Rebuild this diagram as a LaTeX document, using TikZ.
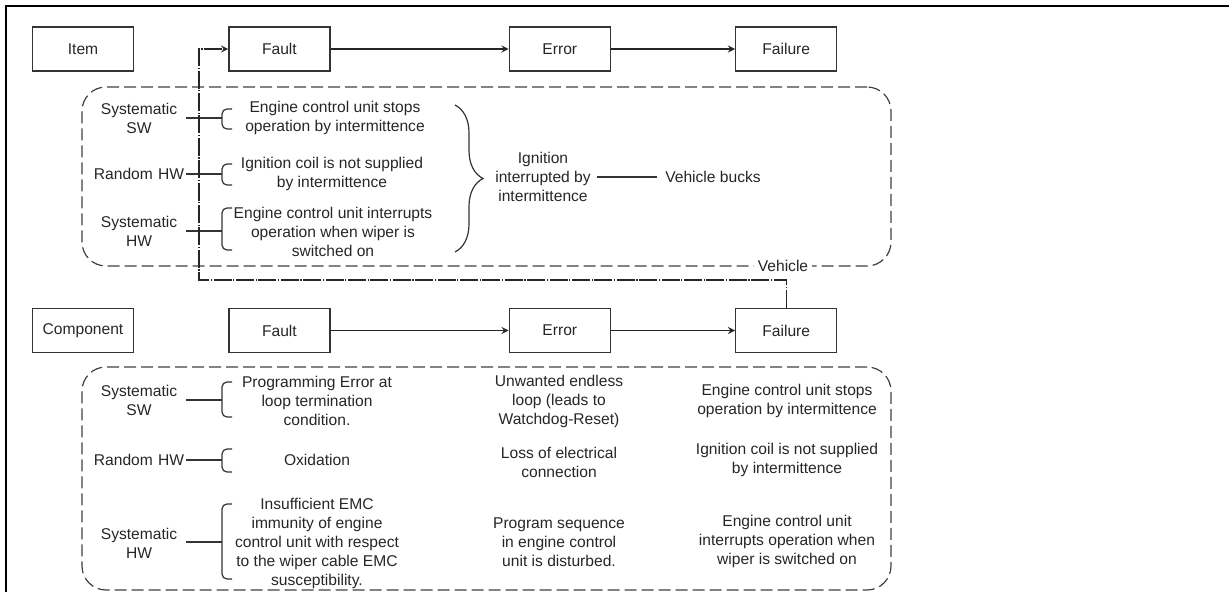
\documentclass[tikz,border=0pt]{standalone}
\usepackage{fontspec}
\setmainfont{Liberation Sans}
\usetikzlibrary{positioning,decorations.pathreplacing}

\begin{document}
\begin{tikzpicture}[x=0.5pt,y=-0.5pt,font=\fontsize{7.8}{9.5}\selectfont]
      \tikzstyle{box} = [rectangle, minimum width=50.5pt, minimum height=22pt, text centered, draw=black!80, line width=0.7pt, text=black!85]
      \tikzstyle{txt} = [align=center, text=black!85, inner sep=1pt]
      \tikzstyle{cause} = [align=center, text width=47pt, inner xsep=0pt, text=black!85]
      \tikzstyle{dashbox} = [rectangle, draw=black!75, line width=0.6pt, dash pattern=on 6pt off 2.5pt, rounded corners=12pt]
      \tikzstyle{arrow} = [line width=0.6pt, draw=black!85, ->, >=stealth]
      \tikzstyle{link} = [line width=0.6pt, draw=black!80]
      \tikzstyle{bracket} = [line width=0.6pt, draw=black!80, rounded corners=2.5pt]
      \tikzstyle{feedback} = [line width=0.6pt, draw=black!85, dash pattern=on 9pt off 0.8pt on 0.6pt off 0.8pt, ->, >=stealth]

      \useasboundingbox (0,0) rectangle (1229,592);
      \draw [line width=1pt] (6,592) -- (6,6) -- (1229,6);

      % item level
      \node (item) [box] at (83,49) {Item};
      \node (fault1) [box, right=47pt of item] {Fault};
      \node (error1) [box, right=89pt of fault1] {Error};
      \node (fail1) [box, right=62pt of error1] {Failure};

      \draw [arrow] (fault1) -- (error1);
      \draw [arrow] (error1) -- (fail1);

      \node (itemgrp) [dashbox, minimum width=404.5pt, minimum height=89.5pt] at (486.5,176.5) {};

      \node (sw1) [cause] at (139,118) {Systematic\\SW};
      \node (rhw1) [cause] at (139,174) {Random HW};
      \node (shw1) [cause] at (139,231) {Systematic\\HW};

      \node (f1a) [txt] at (335,118) {Engine control unit stops\\operation by intermittence};
      \node (f1b) [txt] at (332,174) {Ignition coil is not supplied\\by intermittence};
      \node (f1c) [txt] at (333,232) {Engine control unit interrupts\\operation when wiper is\\switched on};

      \node (e1) [txt] at (543,177) {Ignition\\interrupted by\\intermittence};
      \node (fl1) [txt, inner xsep=4pt] at (713,177) {Vehicle bucks};

      \coordinate (b1a) at (222,118);
      \coordinate (b1b) at (222,174);
      \coordinate (b1c) at (222,231);
      \draw [link] (sw1.east) -- (b1a);
      \draw [link] (rhw1.east) -- (b1b);
      \draw [link] (shw1.east) -- (b1c);
      \draw [bracket] (232,109) -- (222,109) -- (222,129) -- (232,129);
      \draw [bracket] (232,164) -- (222,164) -- (222,185) -- (232,185);
      \draw [bracket] (232,208) -- (222,208) -- (222,250) -- (232,250);
      \draw [link, decorate, decoration={brace, amplitude=14pt}] (455,105) -- (455,252);
      \draw [link] (e1.east) ++(4,0) -- (fl1.west);

      % component level
      \node (comp) [box] at (83,330.5) {Component};
      \node (fault2) [box, right=47pt of comp] {Fault};
      \node (error2) [box, right=89pt of fault2] {Error};
      \node (fail2) [box, right=62pt of error2] {Failure};

      \draw [arrow] (fault2) -- (error2);
      \draw [arrow] (error2) -- (fail2);

      \node (compgrp) [dashbox, minimum width=404.5pt, minimum height=111.5pt] at (486.5,478.5) {};

      \node (sw2) [cause] at (139,400) {Systematic\\SW};
      \node (rhw2) [cause] at (139,460) {Random HW};
      \node (shw2) [cause] at (139,543) {Systematic\\HW};

      \node (f2a) [txt] at (317,401) {Programming Error at\\loop termination\\condition.};
      \node (f2b) [txt] at (317,460) {Oxidation};
      \node (f2c) [txt] at (317,543) {Insufficient EMC\\immunity of engine\\control unit with respect\\to the wiper cable EMC\\susceptibility.};

      \node (e2a) [txt] at (559,401) {Unwanted endless\\loop (leads to\\Watchdog-Reset)};
      \node (e2b) [txt] at (559,462) {Loss of electrical\\connection};
      \node (e2c) [txt] at (559,542) {Program sequence\\in engine control\\unit is disturbed.};

      \node (fl2a) [txt] at (787,401) {Engine control unit stops\\operation by intermittence};
      \node (fl2b) [txt] at (787,460) {Ignition coil is not supplied\\by intermittence};
      \node (fl2c) [txt] at (787,541) {Engine control unit\\interrupts operation when\\wiper is switched on};

      \coordinate (b2a) at (222,400);
      \coordinate (b2b) at (222,460);
      \coordinate (b2c) at (222,542);
      \draw [link] (sw2.east) -- (b2a);
      \draw [link] (rhw2.east) -- (b2b);
      \draw [link] (shw2.east |- b2c) -- (b2c);
      \draw [bracket] (232,382) -- (222,382) -- (222,417) -- (232,417);
      \draw [bracket] (232,449) -- (222,449) -- (222,472) -- (232,472);
      \draw [bracket] (232,504) -- (222,504) -- (222,579) -- (232,579);

      % vehicle failure feeds the item fault
      \coordinate (turn) at (199,280);
      \draw [feedback] (fail2.north) |- (turn) |- (fault1.west);

      \node (veh) [txt, fill=white, inner xsep=2pt] at (783,266) {Vehicle};
\end{tikzpicture}
\end{document}
